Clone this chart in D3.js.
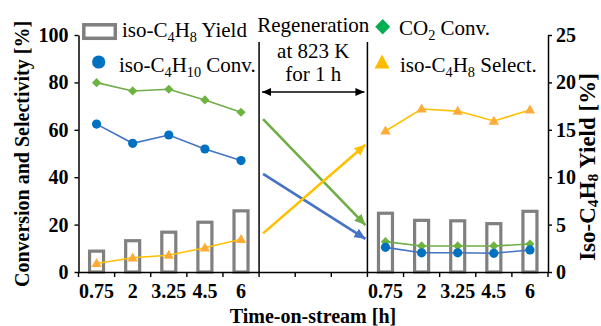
<!DOCTYPE html>
<html>
<head>
<meta charset="utf-8">
<script src="https://cdn.jsdelivr.net/npm/d3@7"></script>
<style>
  html, body { margin: 0; padding: 0; background: #fff; }
  svg { display: block; }
  svg text { font-family: 'Liberation Serif', 'Times New Roman', serif; fill: #000; }
</style>
</head>
<body>
<svg id="chart" width="601" height="326"></svg>
<script>
// ---------------- DATA ----------------
const timeLabels = ["0.75", "2", "3.25", "4.5", "6"];
// before regeneration (left panel)
const yieldBefore   = [2.2, 3.3, 4.2, 5.25, 6.45];     // iso-C4H8 Yield [%] (right axis)
const isoConvBefore = [62.4, 54.3, 57.8, 51.9, 47.0];  // iso-C4H10 Conv. [%]
const co2ConvBefore = [79.9, 76.4, 77.1, 72.6, 67.4];  // CO2 Conv. [%]
const selectBefore  = [3.6, 6.0, 7.1, 10.2, 13.8];     // iso-C4H8 Select. [%]
// after regeneration (right panel)
const yieldAfter    = [6.2, 5.45, 5.4, 5.1, 6.4];
const isoConvAfter  = [10.4, 8.1, 8.1, 7.9, 9.3];
const co2ConvAfter  = [12.8, 11.0, 11.0, 11.0, 11.8];
const selectAfter   = [59.5, 68.8, 67.9, 63.7, 68.4];
// regeneration arrows (left-axis values, start -> end)
const arrowSeries = ["co2", "iso", "sel"];
const arrowFrom   = [64.5, 41.4, 16.3];
const arrowTo     = [19.8, 14.0, 53.7];
const leftTicks  = [0, 20, 40, 60, 80, 100];
const rightTicks = [0, 5, 10, 15, 20, 25];

// ---------------- SETUP ----------------
const FONT = "'Liberation Serif', 'Times New Roman', serif";
const svg = d3.select("#chart");
const slotsL = timeLabels.map((t, i) => "L" + i);
const slotsG = ["G0", "G1", "G2"];
const slotsR = timeLabels.map((t, i) => "R" + i);
const slots = [...slotsL, ...slotsG, ...slotsR];
const slotLabel = {};
slotsL.forEach((s, i) => slotLabel[s] = timeLabels[i]);
slotsR.forEach((s, i) => slotLabel[s] = timeLabels[i]);
slotsG.forEach(s => slotLabel[s] = "");

const x = d3.scaleBand().domain(slots).range([78.5, 548]).padding(0);
const yL = d3.scaleLinear().domain([0, 100]).range([272, 35]);
const yR = d3.scaleLinear().domain([0, 25]).range([272, 35]);
const cx = s => x(s) + x.bandwidth() / 2;

const colors = {
  co2Line: "#70ad47", co2Mark: "#6cb33f", co2Legend: "#00b050",
  isoLine: "#4472c4", isoMark: "#0070c0",
  selLine: "#ffc000", selMark: "#ffab3a", selLegend: "#ffbb00",
  bar: "#808080"
};

// defs for arrowheads
const defs = svg.append("defs");
function arrowHead(id, color, w, l) {
  defs.append("marker").attr("id", id)
    .attr("markerUnits", "userSpaceOnUse")
    .attr("viewBox", `0 ${-w/2} ${l} ${w}`)
    .attr("refX", l).attr("refY", 0)
    .attr("markerWidth", l).attr("markerHeight", w)
    .attr("orient", "auto-start-reverse")
    .append("path").attr("d", `M0,${-w/2}L${l},0L0,${w/2}Z`).attr("fill", color);
}
arrowHead("ah-co2", colors.co2Line, 10, 11);
arrowHead("ah-iso", colors.isoLine, 10, 11);
arrowHead("ah-sel", colors.selLine, 10, 11);
arrowHead("ah-blk", "#000", 8, 9);

// ---------------- BARS ----------------
const barW = 14;
function drawBars(keys, vals) {
  svg.append("g").selectAll("rect").data(vals).join("rect")
    .attr("x", (d, i) => cx(keys[i]) - barW / 2)
    .attr("y", d => yR(d))
    .attr("width", barW)
    .attr("height", d => yR(0) - yR(d))
    .attr("fill", "#fff")
    .attr("stroke", colors.bar)
    .attr("stroke-width", 3.2);
}
drawBars(slotsL, yieldBefore);
drawBars(slotsR, yieldAfter);

// ---------------- LINES & MARKERS ----------------
const line = d3.line().x(d => d[0]).y(d => d[1]);
function pts(keys, vals) { return vals.map((v, i) => [cx(keys[i]), yL(v)]); }

function drawSeries(keys, vals, lineColor, markColor, shape) {
  const p = pts(keys, vals);
  svg.append("path").attr("d", line(p)).attr("fill", "none")
    .attr("stroke", lineColor).attr("stroke-width", 1.6);
  const g = svg.append("g");
  p.forEach(([px, py]) => {
    if (shape === "circle") {
      g.append("circle").attr("cx", px).attr("cy", py).attr("r", 4.6).attr("fill", markColor);
    } else if (shape === "diamond") {
      const h = 4.6;
      g.append("path").attr("d", `M${px},${py-h}L${px+h},${py}L${px},${py+h}L${px-h},${py}Z`).attr("fill", markColor);
    } else {
      const w = 5.2, h = 9;
      g.append("path").attr("d", `M${px},${py-h*0.6}L${px+w},${py+h*0.4}L${px-w},${py+h*0.4}Z`).attr("fill", markColor);
    }
  });
}
drawSeries(slotsL, co2ConvBefore, colors.co2Line, colors.co2Mark, "diamond");
drawSeries(slotsL, isoConvBefore, colors.isoLine, colors.isoMark, "circle");
drawSeries(slotsL, selectBefore, colors.selLine, colors.selMark, "triangle");
drawSeries(slotsR, co2ConvAfter, colors.co2Line, colors.co2Mark, "diamond");
drawSeries(slotsR, isoConvAfter, colors.isoLine, colors.isoMark, "circle");
drawSeries(slotsR, selectAfter, colors.selLine, colors.selMark, "triangle");

// ---------------- REGENERATION GAP ----------------
const gapL = x("G0"), gapR = x("G2") + x.bandwidth();
[gapL, gapR].forEach(xx => {
  svg.append("line").attr("x1", xx).attr("x2", xx).attr("y1", 42).attr("y2", yL(0))
    .attr("stroke", "#000").attr("stroke-width", 1.5);
});
const arrowColor = { co2: colors.co2Line, iso: colors.isoLine, sel: colors.selLine };
arrowSeries.forEach((s, i) => {
  svg.append("line")
    .attr("x1", gapL + 4).attr("y1", yL(arrowFrom[i]))
    .attr("x2", gapR - 2).attr("y2", yL(arrowTo[i]))
    .attr("stroke", arrowColor[s]).attr("stroke-width", 2.6)
    .attr("marker-end", `url(#ah-${s})`);
});
svg.append("line").attr("x1", gapL + 3).attr("x2", gapR - 3).attr("y1", 92).attr("y2", 92)
  .attr("stroke", "#000").attr("stroke-width", 1.4)
  .attr("marker-start", "url(#ah-blk)").attr("marker-end", "url(#ah-blk)");
const regen = svg.append("text").attr("text-anchor", "middle").attr("font-size", 21).attr("font-family", FONT);
[["Regeneration", 32], ["at 823 K", 58], ["for 1 h", 81]].forEach(([t, yy]) => {
  regen.append("tspan").attr("x", (gapL + gapR) / 2).attr("y", yy).text(t);
});

// ---------------- AXES ----------------
const axL = svg.append("g").attr("transform", `translate(${x.range()[0]},0)`)
  .call(d3.axisLeft(yL).tickValues(leftTicks).tickSize(4).tickPadding(6).tickSizeOuter(0));
const axR = svg.append("g").attr("transform", `translate(${x.range()[1]},0)`)
  .call(d3.axisRight(yR).tickValues(rightTicks).tickSize(4).tickPadding(4).tickSizeOuter(0));
const axB = svg.append("g").attr("transform", `translate(0,${yL(0)})`)
  .call(d3.axisBottom(x).tickSize(0).tickPadding(12).tickSizeOuter(0).tickFormat(s => slotLabel[s]));
const bounds = slots.map(s => x(s)).concat([x.range()[1]]);
axB.selectAll("line.bnd").data(bounds).join("line").attr("class", "bnd")
  .attr("x1", d => d).attr("x2", d => d).attr("y1", 0).attr("y2", 5)
  .attr("stroke", "#000").attr("stroke-width", 1.4);

[axL, axR, axB].forEach(a => {
  a.attr("font-family", FONT);
  a.select(".domain").attr("stroke", "#000").attr("stroke-width", 1.5);
  a.selectAll(".tick line").attr("stroke", "#000").attr("stroke-width", 1.4);
  a.selectAll(".tick text").attr("font-size", 20).attr("font-weight", "bold")
    .attr("font-family", FONT).attr("fill", "#000");
});

function chemText(t, parts, dy) {
  dy = dy || 5;
  let down = false;
  parts.forEach(([s, sub]) => {
    const ts = t.append("tspan").text(s);
    if (sub && !down) { ts.attr("font-size", "0.68em").attr("dy", dy); down = true; }
    else if (sub && down) { ts.attr("font-size", "0.68em"); }
    else if (!sub && down) { ts.attr("dy", -dy); down = false; }
  });
}

// axis titles
svg.append("text").attr("transform", "translate(29,154) rotate(-90)")
  .attr("text-anchor", "middle").attr("font-size", 20).attr("font-weight", "bold").attr("font-family", FONT)
  .text("Conversion and Selectivity [%]");

const rt = svg.append("text").attr("transform", "translate(595,167) rotate(-90)")
  .attr("text-anchor", "middle").attr("font-size", 23).attr("font-weight", "bold").attr("font-family", FONT);
chemText(rt, [["Iso-C"], ["4", 1], ["H"], ["8", 1], [" Yield [%]"]], 3);

svg.append("text").attr("x", 313).attr("y", 323).attr("text-anchor", "middle").attr("font-family", FONT)
  .attr("font-size", 20).attr("font-weight", "bold").text("Time-on-stream [h]");

// ---------------- LEGEND ----------------
svg.append("rect").attr("x", 83.8).attr("y", 24.8).attr("width", 31.5).attr("height", 13.5)
  .attr("fill", "#fff").attr("stroke", colors.bar).attr("stroke-width", 3.5);
chemText(svg.append("text").attr("x", 122).attr("y", 37).attr("font-size", 21).attr("font-family", FONT),
  [["iso-C"], ["4", 1], ["H"], ["8", 1], [" Yield"]]);

svg.append("circle").attr("cx", 98.7).attr("cy", 62).attr("r", 6.6).attr("fill", colors.isoMark);
chemText(svg.append("text").attr("x", 119).attr("y", 72).attr("font-size", 21).attr("font-family", FONT),
  [["iso-C"], ["4", 1], ["H"], ["10", 1], [" Conv."]]);

svg.append("path").attr("d", "M382.7,19L390.2,26.7L382.7,34.4L375.2,26.7Z").attr("fill", colors.co2Legend);
chemText(svg.append("text").attr("x", 399).attr("y", 35).attr("font-size", 21).attr("font-family", FONT),
  [["CO"], ["2", 1], [" Conv."]]);

svg.append("path").attr("d", "M382,54.5L389.5,68.5L374.5,68.5Z").attr("fill", colors.selLegend);
chemText(svg.append("text").attr("x", 400).attr("y", 72).attr("font-size", 21).attr("font-family", FONT),
  [["iso-C"], ["4", 1], ["H"], ["8", 1], [" Select."]]);
</script>
</body>
</html>
